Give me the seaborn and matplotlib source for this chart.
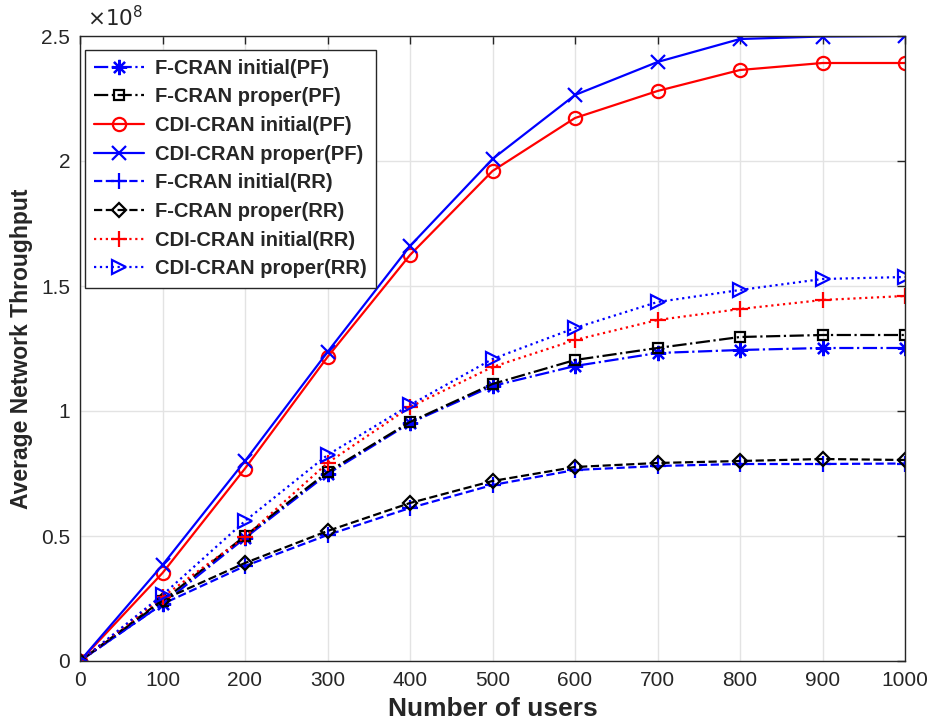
import numpy as np
import pandas as pd
import matplotlib
matplotlib.use("Agg")
import matplotlib.pyplot as plt
import seaborn as sns

users = [0, 100, 200, 300, 400, 500, 600, 700, 800, 900, 1000]

# values in units of 1e8
fcran_init_pf = [0, 0.228, 0.492, 0.748, 0.952, 1.100, 1.180, 1.232, 1.244, 1.252, 1.252]
fcran_prop_pf = [0, 0.240, 0.500, 0.756, 0.956, 1.108, 1.204, 1.252, 1.296, 1.304, 1.304]
cdi_init_pf = [0, 0.352, 0.770, 1.216, 1.624, 1.960, 2.172, 2.280, 2.364, 2.392, 2.392]
cdi_prop_pf = [0, 0.384, 0.800, 1.236, 1.660, 2.008, 2.264, 2.396, 2.488, 2.498, 2.500]
fcran_init_rr = [0, 0.228, 0.380, 0.504, 0.612, 0.704, 0.764, 0.780, 0.788, 0.788, 0.790]
fcran_prop_rr = [0, 0.244, 0.392, 0.520, 0.632, 0.720, 0.776, 0.792, 0.800, 0.808, 0.804]
cdi_init_rr = [0, 0.256, 0.496, 0.792, 1.016, 1.176, 1.284, 1.364, 1.408, 1.444, 1.460]
cdi_prop_rr = [0, 0.264, 0.560, 0.824, 1.024, 1.208, 1.332, 1.436, 1.484, 1.528, 1.536]

labels = ["F-CRAN initial(PF)", "F-CRAN proper(PF)", "CDI-CRAN initial(PF)",
          "CDI-CRAN proper(PF)", "F-CRAN initial(RR)", "F-CRAN proper(RR)",
          "CDI-CRAN initial(RR)", "CDI-CRAN proper(RR)"]
series = [fcran_init_pf, fcran_prop_pf, cdi_init_pf, cdi_prop_pf,
          fcran_init_rr, fcran_prop_rr, cdi_init_rr, cdi_prop_rr]
colors = ["#0000ff", "#000000", "#ff0000", "#0000ff", "#0000ff", "#000000", "#ff0000", "#0000ff"]
linestyles = ["-.", "-.", "-", "-", "--", "--", ":", ":"]
markers = [(8, 2, 0), "s", "o", "x", "+", "D", "+", ">"]
msizes = [11, 7, 9.5, 9.5, 12, 7.5, 12, 10]

sns.set_style("white")
plt.rcParams['font.family'] = ['Liberation Sans', 'DejaVu Sans']

fig = plt.figure(figsize=(9.32, 7.24), dpi=100)
ax = fig.add_axes([80/932, 1-661/724, (905-80)/932, (661-36)/724])

for lab, vals, c, ls, m, ms in zip(labels, series, colors, linestyles, markers, msizes):
    df = pd.DataFrame({"users": users, "thr": vals})
    sns.lineplot(data=df, x="users", y="thr", ax=ax, color=c, linestyle=ls,
                 marker=m, markersize=ms, markerfacecolor="none", markeredgecolor=c,
                 markeredgewidth=1.6, linewidth=1.6, label=lab)

ax.set_xlim(0, 1000)
ax.set_ylim(0, 2.5)
ax.set_xticks(users)
ax.set_yticks([0, 0.5, 1, 1.5, 2, 2.5])
ax.set_yticklabels(["0", "0.5", "1", "1.5", "2", "2.5"])
ax.grid(True, color="#e3e3e3", linewidth=1)
ax.set_axisbelow(True)
ax.tick_params(direction="in", length=6, width=1, colors="#262626", labelsize=15,
               top=True, right=True, labelcolor="#262626", pad=7)
for s in ax.spines.values():
    s.set_color("#262626")
    s.set_linewidth(1)
ax.set_xlabel("Number of users", fontsize=19, fontweight="bold", labelpad=5)
ax.set_ylabel("Average Network Throughput", fontsize=16.5, fontweight="bold", labelpad=6)
ax.text(0.008, 1.008, r"$\times10^{8}$", transform=ax.transAxes, fontsize=15.5,
        color="#262626", ha="left", va="bottom")

leg = ax.legend(loc="upper left", bbox_to_anchor=(0.006, 0.978), borderaxespad=0,
                prop={"weight": "bold", "size": 14.5}, frameon=True, fancybox=False,
                handlelength=2.5, labelspacing=0.48, borderpad=0.45, handletextpad=0.55)
leg.get_frame().set_edgecolor("#262626")
leg.get_frame().set_linewidth(1)
leg.get_frame().set_alpha(1)

fig.savefig("out.png", dpi=100)
